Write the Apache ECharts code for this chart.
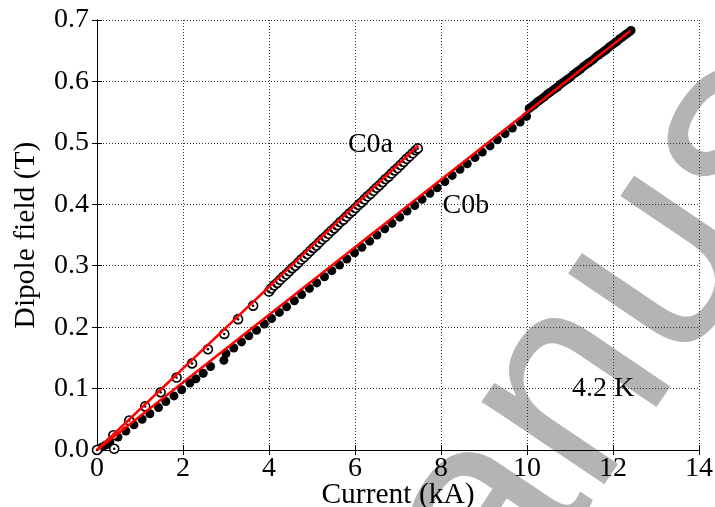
<!DOCTYPE html>
<html>
<head>
<meta charset="utf-8">
<script src="https://cdn.jsdelivr.net/npm/echarts@6/dist/echarts.min.js"></script>
<style>
html,body{margin:0;padding:0;background:#fff;}
#main{width:715px;height:507px;}
</style>
</head>
<body>
<div id="main"></div>
<script>
// C0a (open circles)
var c0aI = [0, 0.38, 0.40, 0.75, 1.12, 1.48, 1.85, 2.21, 2.58, 2.96, 3.28, 3.63, 4.00,
  4.05, 4.12, 4.19, 4.26, 4.33, 4.40, 4.47, 4.54, 4.61, 4.68, 4.75, 4.82, 4.89, 4.96,
  5.03, 5.10, 5.17, 5.24, 5.31, 5.38, 5.45, 5.52, 5.59, 5.66, 5.73, 5.80, 5.87, 5.94,
  6.01, 6.08, 6.15, 6.22, 6.29, 6.36, 6.43, 6.50, 6.57, 6.64, 6.71, 6.78, 6.85, 6.92,
  6.99, 7.06, 7.13, 7.20, 7.27, 7.34, 7.41, 7.46];
var c0aB = [0, 0.024, 0.002, 0.048, 0.071, 0.094, 0.118, 0.141, 0.164, 0.189, 0.213, 0.235, 0.258,
  0.263, 0.268, 0.272, 0.277, 0.282, 0.286, 0.291, 0.296, 0.300, 0.305, 0.310, 0.314, 0.319, 0.324,
  0.329, 0.333, 0.338, 0.343, 0.347, 0.352, 0.357, 0.361, 0.366, 0.371, 0.375, 0.380, 0.385, 0.389,
  0.394, 0.399, 0.403, 0.408, 0.413, 0.417, 0.422, 0.427, 0.431, 0.436, 0.441, 0.445, 0.450, 0.455,
  0.459, 0.464, 0.469, 0.474, 0.478, 0.483, 0.488, 0.491];

// C0b (filled circles)
var c0bI = [0, 0.05, 0.12, 0.20, 0.30, 0.49, 0.67, 0.86, 1.05, 1.23, 1.43, 1.60, 1.79, 1.97,
  2.16, 2.30, 2.47, 2.64, 2.95, 3.00, 3.18, 3.36, 3.53, 3.71, 3.89, 4.06,
  4.24, 4.41, 4.59, 4.76, 4.94, 5.11, 5.29, 5.46, 5.64, 5.81, 5.99, 6.16, 6.34, 6.51,
  6.69, 6.86, 7.04, 7.21, 7.39, 7.56, 7.74, 7.91, 8.09, 8.26, 8.44, 8.61, 8.79, 8.96,
  9.14, 9.31, 9.49, 9.66, 9.84, 9.99,
  10.05, 10.11, 10.17, 10.23, 10.29, 10.35, 10.41, 10.47, 10.53, 10.59, 10.65, 10.71,
  10.77, 10.83, 10.89, 10.95, 11.01, 11.07, 11.13, 11.19, 11.25, 11.31, 11.37, 11.43,
  11.49, 11.55, 11.61, 11.67, 11.73, 11.79, 11.85, 11.91, 11.97, 12.03, 12.09, 12.15,
  12.21, 12.27, 12.33, 12.39, 12.42];
var c0bB = [0, 0.002, 0.005, 0.008, 0.013, 0.021, 0.031, 0.041, 0.050, 0.059, 0.069, 0.079, 0.088, 0.098,
  0.109, 0.116, 0.125, 0.136, 0.146, 0.157, 0.166, 0.176, 0.186, 0.195, 0.205, 0.214,
  0.224, 0.233, 0.243, 0.253, 0.263, 0.272, 0.282, 0.292, 0.301, 0.311, 0.321, 0.330, 0.340, 0.350,
  0.360, 0.369, 0.379, 0.389, 0.398, 0.408, 0.418, 0.427, 0.437, 0.447, 0.457, 0.466, 0.476, 0.485,
  0.495, 0.505, 0.515, 0.524, 0.534, 0.543,
  0.556, 0.559, 0.562, 0.566, 0.569, 0.572, 0.575, 0.579, 0.582, 0.585, 0.588, 0.591,
  0.595, 0.598, 0.601, 0.604, 0.607, 0.611, 0.614, 0.617, 0.620, 0.624, 0.627, 0.630,
  0.633, 0.636, 0.640, 0.643, 0.646, 0.649, 0.652, 0.656, 0.659, 0.662, 0.665, 0.669,
  0.672, 0.675, 0.678, 0.681, 0.683];

// linear fits (end points)
var fitAI = [0, 7.47];
var fitAB = [0, 0.496];
var fitBI = [0, 12.40];
var fitBB = [0, 0.682];

// annotations
var noteText = ['C0a', 'C0b', '4.2 K'];
var noteI = [6.36, 8.58, 11.77];
var noteB = [0.497, 0.397, 0.100];

var xTicks = {min: 0, max: 14, interval: 2};
var yTicks = {min: 0, max: 0.7, interval: 0.1};

function pairs(xs, ys) { return xs.map(function (x, i) { return [x, ys[i]]; }); }

var FONT = '"Liberation Serif", "Times New Roman", serif';
var chart = echarts.init(document.getElementById('main'));

var axisLineStyle = {show: true, lineStyle: {color: '#000', width: 1}};
var tickStyle = {show: true, inside: true, length: 5, lineStyle: {color: '#000'}};
var splitStyle = {show: true, lineStyle: {color: '#333', type: [1, 2], width: 1}};

chart.setOption({
  animation: false,
  backgroundColor: '#fff',
  grid: {left: 97, top: 20, width: 602, height: 430, containLabel: false, outerBoundsMode: 'none'},
  graphic: [{
    type: 'text',
    z: -10,
    silent: true,
    x: 428, y: 858,
    rotation: 56 * Math.PI / 180,
    style: {
      text: 'Manuscript',
      font: '280px "Liberation Sans", Arial, sans-serif',
      fill: '#b4b4b4',
      textAlign: 'left',
      textVerticalAlign: 'bottom'
    }
  }],
  xAxis: [{
    type: 'value', position: 'bottom',
    min: xTicks.min, max: xTicks.max, interval: xTicks.interval,
    axisLine: axisLineStyle, axisTick: tickStyle,
    axisLabel: {color: '#000', fontFamily: FONT, fontSize: 28, margin: 5},
    splitLine: splitStyle,
    name: 'Current (kA)', nameLocation: 'middle', nameGap: 30, nameMoveOverlap: false,
    nameTextStyle: {color: '#000', fontFamily: FONT, fontSize: 29.5}
  }, {
    type: 'value', position: 'top',
    min: xTicks.min, max: xTicks.max, interval: xTicks.interval,
    axisLine: axisLineStyle, axisTick: tickStyle,
    axisLabel: {show: false}, splitLine: {show: false}
  }],
  yAxis: [{
    type: 'value', position: 'left',
    min: yTicks.min, max: yTicks.max, interval: yTicks.interval,
    axisLine: axisLineStyle, axisTick: tickStyle,
    axisLabel: {color: '#000', fontFamily: FONT, fontSize: 28, margin: 8,
      formatter: function (v) { return v.toFixed(1); }},
    splitLine: splitStyle,
    name: 'Dipole field (T)', nameLocation: 'middle', nameGap: 56, nameRotate: 90, nameMoveOverlap: false,
    nameTextStyle: {color: '#000', fontFamily: FONT, fontSize: 29.5}
  }, {
    type: 'value', position: 'right',
    min: yTicks.min, max: yTicks.max, interval: yTicks.interval,
    axisLine: axisLineStyle, axisTick: tickStyle,
    axisLabel: {show: false}, splitLine: {show: false}
  }],
  series: [{
    name: 'C0b', type: 'scatter', z: 3,
    data: pairs(c0bI, c0bB),
    symbol: 'circle', symbolSize: 9,
    itemStyle: {color: '#000', opacity: 1}
  }, {
    name: 'C0a', type: 'scatter', z: 3,
    data: pairs(c0aI, c0aB),
    symbol: 'circle', symbolSize: 9,
    itemStyle: {color: '#fff', borderColor: '#000', borderWidth: 1.6, opacity: 1}
  }, {
    name: 'C0a centre', type: 'scatter', z: 4,
    data: pairs(c0aI, c0aB),
    symbol: 'circle', symbolSize: 2.5,
    itemStyle: {color: '#000', opacity: 1}
  }, {
    name: 'fit C0a', type: 'line', z: 5,
    data: pairs(fitAI, fitAB), symbol: 'none',
    lineStyle: {color: '#ff0000', width: 2.5}
  }, {
    name: 'fit C0b', type: 'line', z: 5,
    data: pairs(fitBI, fitBB), symbol: 'none',
    lineStyle: {color: '#ff0000', width: 2.5}
  }, {
    name: 'notes', type: 'scatter', z: 6,
    symbolSize: 1,
    itemStyle: {color: 'rgba(0,0,0,0)', opacity: 1},
    data: noteText.map(function (t, i) { return {name: t, value: [noteI[i], noteB[i]]}; }),
    label: {show: true, position: 'inside', formatter: '{b}', color: '#000', opacity: 1,
      fontFamily: FONT, fontSize: 28}
  }]
});
</script>
</body>
</html>
